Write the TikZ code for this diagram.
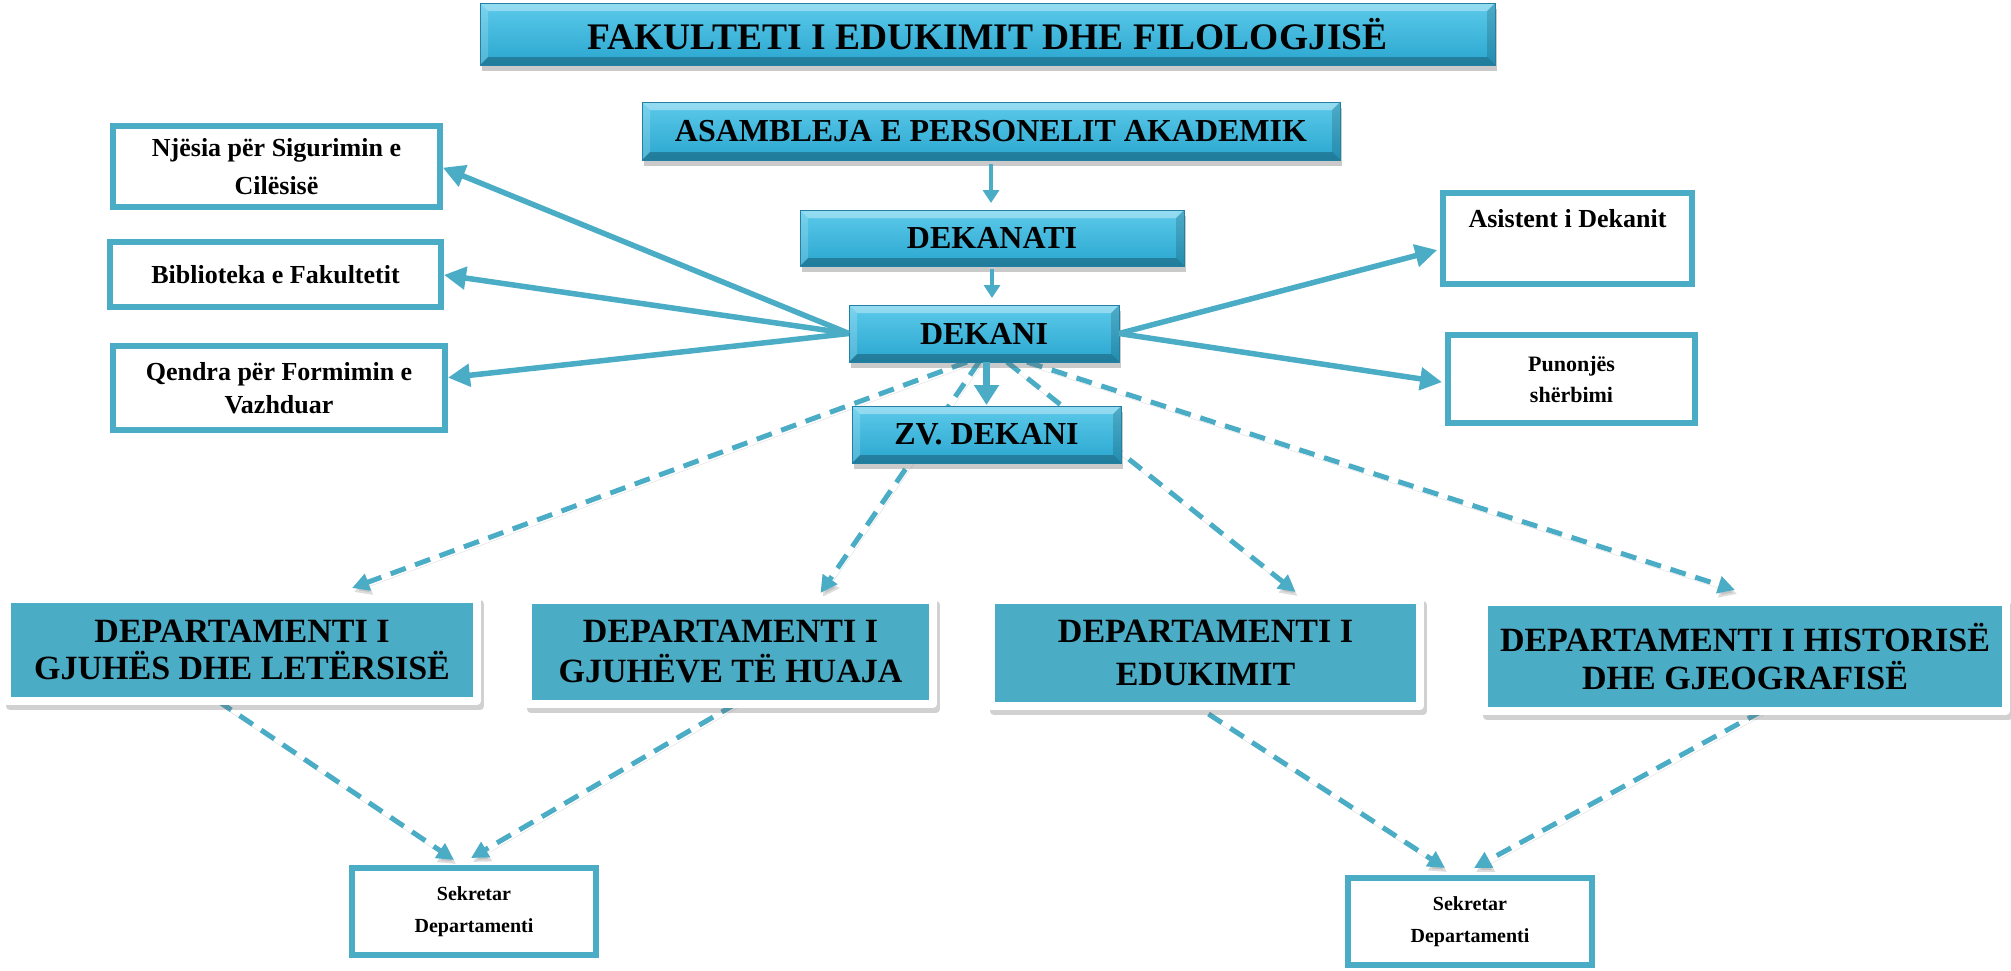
\documentclass[tikz,border=0pt]{standalone}
\usepackage{fontspec}
\setmainfont{Liberation Serif}
\usetikzlibrary{arrows.meta,shadows,backgrounds,calc}
\definecolor{acc}{RGB}{75,172,198}
\definecolor{cyTop}{RGB}{92,202,234}
\definecolor{cyBot}{RGB}{42,166,207}
\definecolor{cyEdge}{RGB}{36,128,163}
\tikzset{
  bevelbox/.style={rectangle, inner sep=0pt, outer sep=0pt,
    top color=cyTop, bottom color=cyBot, draw=cyEdge, line width=0.8pt,
    font=\bfseries\fontsize{32}{38}\selectfont,
    drop shadow={shadow xshift=2pt, shadow yshift=-6pt, opacity=0.35, fill=black!60},
    path picture={
      \fill[white,opacity=.35] (path picture bounding box.north west) -- (path picture bounding box.north east)
        -- ([xshift=-8pt,yshift=-8pt]path picture bounding box.north east) -- ([xshift=8pt,yshift=-8pt]path picture bounding box.north west) -- cycle;
      \fill[white,opacity=.18] (path picture bounding box.north west) -- ([xshift=8pt,yshift=-8pt]path picture bounding box.north west)
        -- ([xshift=8pt,yshift=8pt]path picture bounding box.south west) -- (path picture bounding box.south west) -- cycle;
      \fill[black,opacity=.25] (path picture bounding box.south west) -- (path picture bounding box.south east)
        -- ([xshift=-8pt,yshift=8pt]path picture bounding box.south east) -- ([xshift=8pt,yshift=8pt]path picture bounding box.south west) -- cycle;
      \fill[black,opacity=.15] (path picture bounding box.north east) -- ([xshift=-8pt,yshift=-8pt]path picture bounding box.north east)
        -- ([xshift=-8pt,yshift=8pt]path picture bounding box.south east) -- (path picture bounding box.south east) -- cycle;
    }},
  deptbox/.style={rectangle, inner sep=0pt, outer sep=0pt, fill=acc, draw=white,
    line width=8pt, line join=round, align=center,
    preaction={draw=black!60, line width=8pt, opacity=.3, transform canvas={shift={(3pt,-5pt)}}},
    font=\bfseries\fontsize{34}{37}\selectfont},
  wbox/.style={rectangle, draw=acc, line width=6pt, fill=white, inner sep=0pt, outer sep=0pt,
    align=center, font=\bfseries\fontsize{26}{38}\selectfont},
  thinarr/.style={draw=acc, line width=3.5pt, -{Triangle[length=13pt,width=16pt]}},
  thickarr/.style={draw=acc, line width=7pt, -{Triangle[length=20pt,width=24pt]}},
  sidearr/.style={draw=acc, line width=5.5pt, -{Triangle[length=22pt,width=22pt]}},
  dasharr/.style={draw=acc, line width=5pt, dash pattern=on 16pt off 10pt,
    -{Triangle[length=17pt,width=17pt]},
    preaction={draw=black!45, opacity=.3, transform canvas={shift={(2pt,-4pt)}}}}
}
\begin{document}
\begin{tikzpicture}[x=1pt,y=-1pt]
\useasboundingbox (0,0) rectangle (2011,970);

% central column
\node[bevelbox, font=\bfseries\fontsize{37.5}{44}\selectfont, minimum width=1015pt, minimum height=62pt] (title) at (987.5,34) {FAKULTETI I EDUKIMIT DHE FILOLOGJISË};
\node[bevelbox, minimum width=698pt, minimum height=58pt] (asm) at (991,131) {ASAMBLEJA E PERSONELIT AKADEMIK};
\node[bevelbox, minimum width=384pt, minimum height=56pt] (dekanat) at (992,238) {DEKANATI};
\node[bevelbox, minimum width=270pt, minimum height=57pt] (dekani) at (984,333.5) {DEKANI};
\node[bevelbox, minimum width=269pt, minimum height=57pt] (zv) at (986.5,434.5) {ZV. DEKANI};

% side boxes
\node[wbox, minimum width=327pt, minimum height=81pt] (njesia) at (276.5,166.5) {Njësia për Sigurimin e\\Cilësisë};
\node[wbox, minimum width=331pt, minimum height=65pt] (bib) at (275.5,274.5) {Biblioteka e Fakultetit};
\node[wbox, minimum width=332pt, minimum height=84pt, font=\bfseries\fontsize{26}{33}\selectfont] (qendra) at (279,388) {Qendra për Formimin e\\Vazhduar};
\node[wbox, minimum width=249pt, minimum height=91pt, font=\bfseries\fontsize{26}{31}\selectfont, text height=18pt, text depth=40pt] (asist) at (1567.5,238.5) {Asistent i Dekanit};
\node[wbox, minimum width=247pt, minimum height=88pt, font=\bfseries\fontsize{22}{31}\selectfont] (pun) at (1571.5,379) {Punonjës\\shërbimi};

% departments
\node[deptbox, minimum width=470pt, minimum height=102pt] (dep1) at (242,650) {DEPARTAMENTI I\\GJUHËS DHE LETËRSISË};
\node[deptbox, minimum width=405pt, minimum height=104pt, font=\bfseries\fontsize{34}{40}\selectfont] (dep2) at (730.5,652) {DEPARTAMENTI I\\GJUHËVE TË HUAJA};
\node[deptbox, minimum width=429pt, minimum height=106pt, font=\bfseries\fontsize{34}{43}\selectfont] (dep3) at (1205.5,653) {DEPARTAMENTI I\\EDUKIMIT};
\node[deptbox, minimum width=522pt, minimum height=109pt, font=\bfseries\fontsize{34}{38}\selectfont] (dep4) at (1745,656.5) {DEPARTAMENTI I HISTORISË\\DHE GJEOGRAFISË};

% secretaries
\node[wbox, minimum width=244pt, minimum height=87pt, font=\bfseries\fontsize{20}{32}\selectfont] (sek1) at (474,911.5) {Sekretar\\Departamenti};
\node[wbox, minimum width=244pt, minimum height=87pt, font=\bfseries\fontsize{20}{32}\selectfont] (sek2) at (1470,921.5) {Sekretar\\Departamenti};

% vertical arrows
\draw[thinarr, shorten <=4pt, shorten >=7pt] (asm.south) -- (asm.south |- dekanat.north);
\draw[thinarr, shorten <=3pt, shorten >=7pt] (dekanat.south) -- (dekanat.south |- dekani.north);
\draw[thickarr, shorten >=1pt] (zv.north |- dekani.south) -- (zv.north);

% side arrows
\draw[sidearr, shorten >=3pt] (dekani.west) -- (njesia.east);
\draw[sidearr, shorten >=3pt] (dekani.west) -- (bib.east);
\draw[sidearr, shorten >=3pt] (dekani.west) -- ([yshift=10pt]qendra.east);
\draw[sidearr, shorten >=6pt] (dekani.east) -- ([yshift=-10pt]asist.west);
\draw[sidearr, shorten >=6pt] (dekani.east) -- ([yshift=-4pt]pun.west);

% dashed arrows
\begin{scope}[on background layer]
\draw[dasharr] ([xshift=-17pt]dekani.south) -- ([xshift=110pt,yshift=11pt]dep1.north);
\draw[dasharr] ([xshift=-5pt]dekani.south) -- ([xshift=90pt,yshift=7pt]dep2.north);
\draw[dasharr] ([xshift=23pt]dekani.south) -- ([xshift=90pt,yshift=8pt]dep3.north);
\draw[dasharr] ([xshift=43pt]dekani.south) -- ([xshift=-10pt,yshift=12pt]dep4.north);
\draw[dasharr] ([xshift=-24pt]dep1.south) -- ([xshift=-20pt,yshift=8pt]sek1.north);
\draw[dasharr] ([xshift=5pt]dep2.south) -- ([xshift=-3pt,yshift=10pt]sek1.north);
\draw[dasharr] ([xshift=3pt,yshift=-8pt]dep3.south) -- ([xshift=-25pt,yshift=10pt]sek2.north);
\draw[dasharr] ([xshift=17pt]dep4.south) -- ([xshift=4pt,yshift=10pt]sek2.north);
\end{scope}
\end{tikzpicture}
\end{document}
